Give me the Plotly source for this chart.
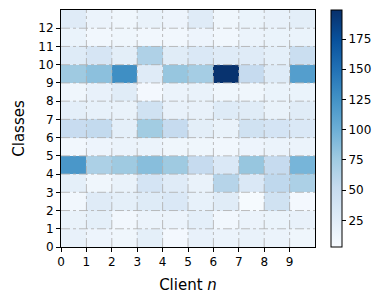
import plotly.graph_objects as go

clients = list(range(10))
classes = list(range(13))
x_edges = list(range(11))
y_edges = list(range(14))

# rows: class 0 .. 12, columns: client 0 .. 9
counts = [
    [18, 13, 11, 22, 7, 18, 15, 17, 15, 11],    # class 0
    [17, 22, 9, 15, 15, 22, 9, 15, 16, 18],     # class 1
    [9, 27, 22, 28, 32, 19, 26, 5, 42, 7],      # class 2
    [22, 11, 17, 38, 27, 17, 62, 32, 56, 68],   # class 3
    [121, 68, 76, 87, 76, 52, 32, 80, 52, 95],  # class 4
    [9, 13, 15, 15, 11, 11, 9, 13, 15, 15],     # class 5
    [50, 54, 22, 74, 52, 23, 17, 42, 38, 32],   # class 6
    [22, 19, 17, 42, 18, 18, 28, 26, 17, 26],   # class 7
    [11, 18, 26, 7, 15, 17, 11, 11, 16, 16],    # class 8
    [76, 85, 128, 27, 80, 72, 197, 52, 28, 115],# class 9
    [28, 36, 23, 66, 26, 32, 27, 27, 22, 48],   # class 10
    [16, 9, 11, 9, 9, 13, 9, 15, 16, 16],       # class 11
    [27, 15, 11, 17, 13, 27, 11, 16, 18, 23],   # class 12
]
cbar_ticks = [25, 50, 75, 100, 125, 150, 175]

font = "DejaVu Sans"

fig = go.Figure(go.Heatmap(
    z=counts, x=x_edges, y=y_edges,
    colorscale="Blues", zmin=3, zmax=199,
    colorbar=dict(
        x=1.063, xanchor="left", xref="paper", xpad=0,
        y=0.5, yanchor="middle", len=1.0, lenmode="fraction", ypad=0,
        thickness=11, outlinewidth=1, outlinecolor="black",
        tickvals=cbar_ticks, ticks="outside", ticklen=4, tickcolor="black",
        tickfont=dict(family=font, size=12, color="black"),
    ),
))

axis_common = dict(
    showline=True, linecolor="black", linewidth=1, mirror=True,
    ticks="outside", ticklen=4, tickcolor="black",
    showgrid=False, zeroline=False, layer="above traces", automargin=False,
    tickfont=dict(family=font, size=12, color="black"),
)

fig.update_xaxes(range=[0, 10], tickvals=clients, ticktext=[str(c) for c in clients],
                 title=dict(text="Client <i>n</i>", font=dict(family=font, size=15, color="black"), standoff=11),
                 **axis_common)
fig.update_yaxes(range=[0, 13], tickvals=classes, ticktext=[str(c) for c in classes],
                 title=dict(text="Classes", font=dict(family=font, size=15, color="black"), standoff=10),
                 **axis_common)

# dash-dot grid drawn above the cells, as in the reference
grid_style = dict(color="rgba(176,176,176,0.85)", width=1, dash="dashdot")
for c in clients[1:]:
    fig.add_shape(type="line", xref="x", yref="paper", x0=c, x1=c, y0=0, y1=1,
                  line=grid_style, layer="above")
for k in classes[1:]:
    fig.add_shape(type="line", xref="paper", yref="y", x0=0, x1=1, y0=k, y1=k,
                  line=grid_style, layer="above")

# the page body adds an 8px offset, so the figure is sized to fill the rest
fig.update_layout(
    width=382, height=296,
    margin=dict(l=53, r=75, t=2, b=57, autoexpand=False),
    paper_bgcolor="white", plot_bgcolor="white",
    font=dict(family=font, color="black"),
)

fig.write_html("out.html")
